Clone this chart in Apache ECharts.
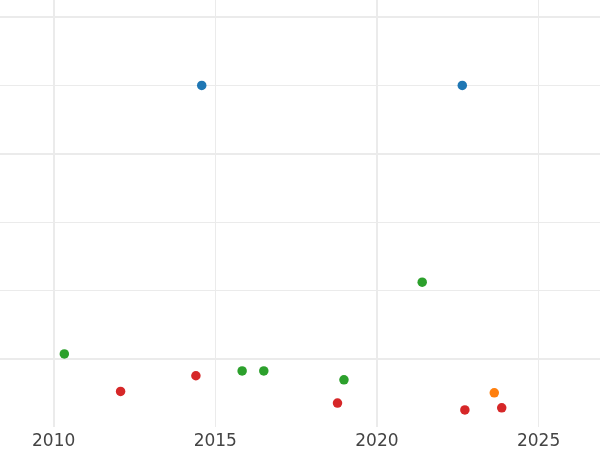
<!DOCTYPE html>
<html>
<head>
<meta charset="utf-8">
<script src="https://cdn.jsdelivr.net/npm/echarts@6/dist/echarts.min.js"></script>
<style>html,body{margin:0;padding:0;background:#fff}#c{width:600px;height:450px}</style>
</head>
<body>
<div id="c"></div>
<script>
// Data
const blueX = [2014.58, 2022.64];
const blueY = [4.0, 4.0];
const orangeX = [2023.63];
const orangeY = [-0.50];
const greenX = [2010.33, 2015.83, 2016.50, 2018.98, 2021.40];
const greenY = [0.07, -0.18, -0.18, -0.31, 1.12];
const redX = [2012.07, 2014.40, 2018.78, 2022.72, 2023.86];
const redY = [-0.48, -0.25, -0.65, -0.75, -0.72];
const xTickLabels = [2010, 2015, 2020, 2025];
const yMajorLines = [5, 3, 0];
const yMinorLines = [4, 2, 1];
const xMajorLines = [2010, 2020];
const xMinorLines = [2015, 2025];

const pairs = (xs, ys) => xs.map((x, i) => [x, ys[i]]);
const gridColor = '#ebebeb';
const lines = [];
yMajorLines.forEach(v => lines.push({yAxis: v, lineStyle: {width: 2}}));
yMinorLines.forEach(v => lines.push({yAxis: v, lineStyle: {width: 1}}));
xMajorLines.forEach(v => lines.push({xAxis: v, lineStyle: {width: 2}}));
xMinorLines.forEach(v => lines.push({xAxis: v, lineStyle: {width: 1}}));

const chart = echarts.init(document.getElementById('c'), null, {renderer: 'canvas'});
const mk = (name, xs, ys, color) => ({
  name, type: 'scatter', data: pairs(xs, ys), symbolSize: 9.5, z: 10,
  itemStyle: {color, opacity: 1}
});
chart.setOption({
  animation: false,
  backgroundColor: '#fff',
  grid: {left: 0, right: 0, top: 0, bottom: 23, containLabel: false},
  xAxis: {
    type: 'value', min: 2008.34, max: 2026.9,
    axisLine: {show: false}, axisTick: {show: false}, splitLine: {show: false},
    axisLabel: {customValues: xTickLabels, color: '#444', fontSize: 17,
      fontFamily: 'DejaVu Sans', margin: 6, formatter: v => String(v)}
  },
  yAxis: {
    type: 'value', min: -1, max: 5.25,
    axisLine: {show: false}, axisTick: {show: false}, splitLine: {show: false},
    axisLabel: {show: false}
  },
  series: [
    {type: 'scatter', data: [], z: 1, silent: true,
      markLine: {silent: true, z: 1, symbol: ['none', 'none'], label: {show: false},
        lineStyle: {color: gridColor, type: 'solid'}, animation: false, data: lines}},
    mk('blue', blueX, blueY, '#1f77b4'),
    mk('orange', orangeX, orangeY, '#ff7f0e'),
    mk('green', greenX, greenY, '#2ca02c'),
    mk('red', redX, redY, '#d62728')
  ]
});
</script>
</body>
</html>
